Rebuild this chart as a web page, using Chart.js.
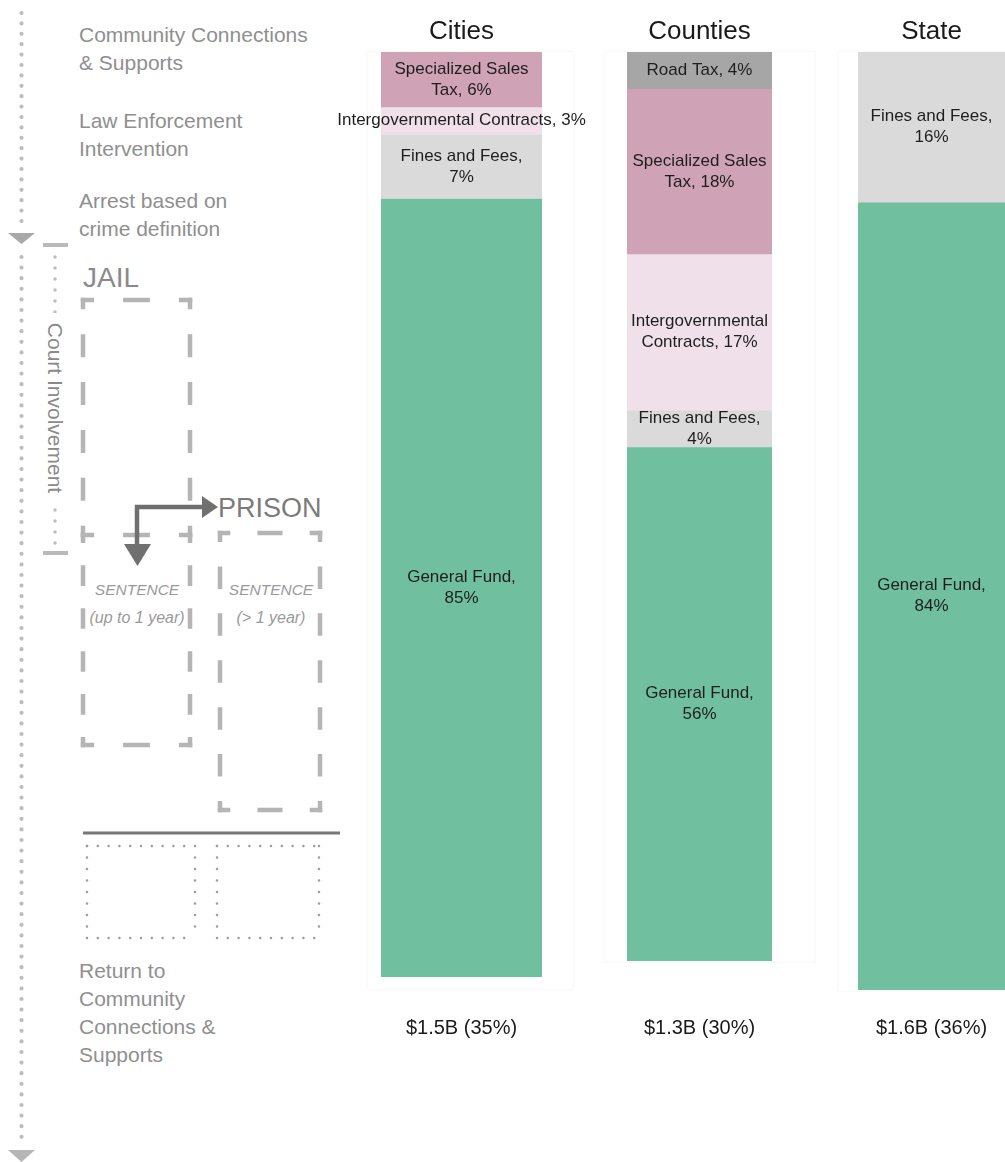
<!DOCTYPE html>
<html>
<head>
<meta charset="utf-8">
<title>Funding sources by level of government</title>
<script src="https://cdn.jsdelivr.net/npm/chart.js@4/dist/chart.umd.min.js"></script>
<style>
  html, body { margin: 0; padding: 0; background: #fff; }
  body { width: 1005px; height: 1162px; overflow: hidden; position: relative;
         font-family: "Liberation Sans", Arial, sans-serif; }
  #flow { position: absolute; left: 0; top: 0; }
  .col { position: absolute; top: 0; }
  .col canvas { display: block; }
</style>
</head>
<body>
<svg id="flow" width="345" height="1162" xmlns="http://www.w3.org/2000/svg"></svg>
<div class="col" id="col0"><canvas id="chart0"></canvas></div>
<div class="col" id="col1"><canvas id="chart1"></canvas></div>
<div class="col" id="col2"><canvas id="chart2"></canvas></div>

<script>
// ---- Data: share of each government level's spending, by funding source (%) ----
const categories = ['Cities', 'Counties', 'State'];
const totalLabels = ['$1.5B (35%)', '$1.3B (30%)', '$1.6B (36%)'];

const sourceNames = ['Road Tax', 'Specialized Sales Tax', 'Intergovernmental Contracts', 'Fines and Fees', 'General Fund'];
const roadTax                    = [0, 4, 0];
const specializedSalesTax        = [6, 18, 0];
const intergovernmentalContracts = [3, 17, 0];
const finesAndFees               = [7, 4, 16];
const generalFund                = [85, 56, 84];

// stacked top-to-bottom in this order
const sourceValues = [roadTax, specializedSalesTax, intergovernmentalContracts, finesAndFees, generalFund];
const sourceColors = ['#a6a6a6', '#cfa3b5', '#f0e0e9', '#dadada', '#70bf9e'];

// ---- Layout of the three columns on the page ----
const BAR_TOP = 52;
const CANVAS_W = 280, CANVAS_H = 1070;
const columnFrames = [
  { barLeft: 381, barRight: 542, barBottom: 977, panel: [367, 51, 573, 989] },
  { barLeft: 627, barRight: 772, barBottom: 961, panel: [604, 51, 815, 962] },
  { barLeft: 858, barRight: 1005, barBottom: 990, panel: [837, 51, 1012, 991] }
];

const FONT = '"Liberation Sans", Arial, sans-serif';

function wrapLabel(ctx, text, maxWidth) {
  const words = text.split(' ');
  const lines = [];
  let line = '';
  for (const w of words) {
    const test = line ? line + ' ' + w : w;
    if (line && ctx.measureText(test).width > maxWidth) { lines.push(line); line = w; }
    else line = test;
  }
  if (line) lines.push(line);
  return lines;
}

categories.forEach((cat, i) => {
  const f = columnFrames[i];
  const center = (f.barLeft + f.barRight) / 2;
  const canvasLeft = Math.round(center - CANVAS_W / 2);
  const div = document.getElementById('col' + i);
  div.style.left = canvasLeft + 'px';
  const canvas = document.getElementById('chart' + i);
  canvas.width = CANVAS_W; canvas.height = CANVAS_H;
  canvas.style.width = CANVAS_W + 'px'; canvas.style.height = CANVAS_H + 'px';

  const datasets = [];
  sourceValues.forEach((vals, s) => {
    if (vals[i] > 0) {
      datasets.push({
        label: sourceNames[s],
        data: [vals[i]],
        backgroundColor: sourceColors[s],
        borderWidth: 0
      });
    }
  });
  const total = datasets.reduce((a, d) => a + d.data[0], 0);

  const decorations = {
    id: 'columnDecor' + i,
    beforeDatasetsDraw(chart) {
      const c = chart.ctx;
      const [x1, y1, x2, y2] = f.panel;
      c.save();
      c.strokeStyle = 'rgba(0,0,0,0.025)';
      c.lineWidth = 1.5;
      c.strokeRect(x1 - canvasLeft + 0.5, y1 + 0.5, x2 - x1, y2 - y1);
      c.restore();
    },
    afterDatasetsDraw(chart) {
      const c = chart.ctx;
      c.save();
      c.font = '17px ' + FONT;
      c.fillStyle = '#1e1e1e';
      c.textAlign = 'center';
      c.textBaseline = 'middle';
      const lineH = 21;
      chart.data.datasets.forEach((ds, di) => {
        const bar = chart.getDatasetMeta(di).data[0];
        const top = Math.min(bar.y, bar.base), bottom = Math.max(bar.y, bar.base);
        const h = bottom - top;
        const text = ds.label + ', ' + ds.data[0] + '%';
        const lines = h < 32 ? [text] : wrapLabel(c, text, 140);
        const cy = (top + bottom) / 2;
        lines.forEach((ln, k) => {
          c.fillText(ln, bar.x, cy + (k - (lines.length - 1) / 2) * lineH);
        });
      });
      // column title and total
      const cx = (chart.chartArea.left + chart.chartArea.right) / 2;
      c.textBaseline = 'alphabetic';
      c.fillStyle = '#1a1a1a';
      c.font = '26px ' + FONT;
      c.fillText(cat, cx, 39);
      c.font = '20px ' + FONT;
      c.fillText(totalLabels[i], cx, 1034);
      c.restore();
    }
  };

  new Chart(canvas, {
    type: 'bar',
    data: { labels: [cat], datasets },
    options: {
      responsive: false,
      maintainAspectRatio: false,
      animation: false,
      devicePixelRatio: 1,
      layout: {
        padding: {
          left: f.barLeft - canvasLeft,
          right: canvasLeft + CANVAS_W - f.barRight,
          top: BAR_TOP,
          bottom: CANVAS_H - f.barBottom
        }
      },
      datasets: { bar: { barPercentage: 1, categoryPercentage: 1 } },
      plugins: { legend: { display: false }, tooltip: { enabled: false } },
      scales: {
        x: { display: false, stacked: true },
        y: { display: false, stacked: true, reverse: true, min: 0, max: total }
      }
    },
    plugins: [decorations]
  });
});

// ---- Justice-system pathway drawn down the left side ----
const svg = document.getElementById('flow');
const NS = 'http://www.w3.org/2000/svg';
function el(tag, attrs, text) {
  const e = document.createElementNS(NS, tag);
  for (const k in attrs) e.setAttribute(k, attrs[k]);
  if (text !== undefined) e.textContent = text;
  svg.appendChild(e);
  return e;
}
function dotted(x1, y1, x2, y2, gap, size, color) {
  el('line', { x1, y1, x2, y2, stroke: color, 'stroke-width': size,
               'stroke-linecap': 'round', 'stroke-dasharray': '0 ' + gap });
}
const DASH_COLOR = '#b5b5b5', DASH_W = 4.5;
// a dashed side that starts and ends on a half dash so corners form L shapes
function dashedSide(x1, y1, x2, y2) {
  const len = Math.hypot(x2 - x1, y2 - y1);
  const ux = (x2 - x1) / len, uy = (y2 - y1) / len;
  const ext = DASH_W / 2;
  const sx = x1 - ux * ext, sy = y1 - uy * ext, ex = x2 + ux * ext, ey = y2 + uy * ext;
  const L = len + 2 * ext;
  const m = Math.max(1, Math.round(L / 46) - 1);
  const period = L / (m + 1);
  const d = period * 0.48, g = period - d;
  el('line', { x1: sx, y1: sy, x2: ex, y2: ey, stroke: DASH_COLOR, 'stroke-width': DASH_W,
               'stroke-dasharray': d + ' ' + g, 'stroke-dashoffset': d / 2 });
}
function dashedBox(x, y, w, h) {
  dashedSide(x, y, x + w, y);
  dashedSide(x + w, y, x + w, y + h);
  dashedSide(x + w, y + h, x, y + h);
  dashedSide(x, y + h, x, y);
}
function dottedBox(x, y, w, h) {
  const c = '#9d9d9d';
  dotted(x, y, x + w, y, 10.8, 2.6, c);
  dotted(x, y + h, x + w, y + h, 10.8, 2.6, c);
  dotted(x, y, x, y + h, 11.5, 2.6, c);
  dotted(x + w, y, x + w, y + h, 11.5, 2.6, c);
}
function text(x, y, str, size, fill, extra) {
  return el('text', Object.assign({ x, y, 'font-family': FONT.replace(/"/g, "'"),
    'font-size': size, fill }, extra || {}), str);
}

// overall timeline
dotted(21.5, 13, 21.5, 229, 10.4, 4.2, '#bdbdbd');
el('polygon', { points: '8,233 35,233 21.5,244', fill: '#a8a8a8' });
dotted(21.5, 257, 21.5, 1142, 10.6, 4.2, '#bdbdbd');
el('polygon', { points: '8,1150 35,1150 21.5,1162', fill: '#b6b6b6' });

// court involvement bracket
el('line', { x1: 43, y1: 245, x2: 68, y2: 245, stroke: '#bababa', 'stroke-width': 4 });
el('line', { x1: 43, y1: 553, x2: 68, y2: 553, stroke: '#bababa', 'stroke-width': 4 });
dotted(55, 257, 55, 545, 11, 3.5, '#bdbdbd');
el('rect', { x: 45, y: 313, width: 21, height: 191, fill: '#fff' });
text(0, 0, 'Court Involvement', 21, '#8a8a8a',
     { 'text-anchor': 'middle', 'dominant-baseline': 'central',
       transform: 'translate(55,408) rotate(90)' });

// stage labels
const LABEL_GREY = '#8f8f8f';
[['Community Connections', 42], ['& Supports', 70],
 ['Law Enforcement', 128], ['Intervention', 156],
 ['Arrest based on', 208], ['crime definition', 236],
 ['Return to', 978], ['Community', 1006], ['Connections &', 1034], ['Supports', 1062]]
  .forEach(([s, y]) => text(79, y, s, 21, LABEL_GREY));

// jail
text(83, 287, 'JAIL', 28, '#8a8a8a');
dashedBox(83, 300, 107, 235);
dashedSide(83, 535, 83, 745);
dashedSide(190, 535, 190, 745);
dashedSide(190, 745, 83, 745);

// prison
text(218, 517, 'PRISON', 27, '#7b7b7b');
dashedBox(220, 533, 100, 277);

// routing arrows
el('polyline', { points: '137,546 137,507 203,507', fill: 'none', stroke: '#707070', 'stroke-width': 4.5 });
el('polygon', { points: '202,496 218,507 202,518', fill: '#707070' });
el('polygon', { points: '124,544 151,544 137.5,566', fill: '#707070' });

// sentences
const it = { 'font-style': 'italic', 'text-anchor': 'middle' };
text(137, 595, 'SENTENCE', 15.5, '#9a9a9a', it);
text(137, 623, '(up to 1 year)', 16, '#9a9a9a', it);
text(271, 595, 'SENTENCE', 15.5, '#9a9a9a', it);
text(271, 623, '(> 1 year)', 16, '#9a9a9a', it);

// release line and return boxes
el('line', { x1: 83, y1: 833, x2: 340, y2: 833, stroke: '#777', 'stroke-width': 3 });
dottedBox(87, 846, 108, 92);
dottedBox(217, 846, 102, 92);
</script>
</body>
</html>
